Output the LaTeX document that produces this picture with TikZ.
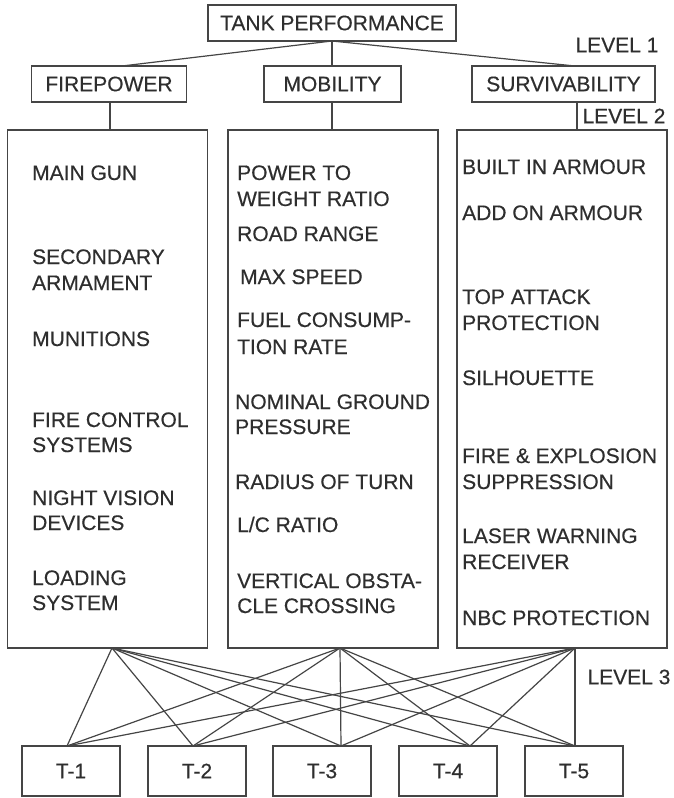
\documentclass[tikz,border=0pt]{standalone}
\usepackage{fontspec}
\setmainfont{Liberation Sans}[FakeBold=0.4]
\definecolor{ink}{HTML}{2E2E2E}
\definecolor{wire}{HTML}{454545}
\begin{document}
\begin{tikzpicture}[x=1pt,y=-1pt,
  every node/.style={font=\fontsize{21}{24}\selectfont, text=ink, inner sep=0pt},
  boxline/.style={draw=wire, line width=1.3pt},
  wireline/.style={draw=wire, line width=1.2pt},
  item/.style={anchor=base west},
  tbox/.style={boxline, minimum width=98pt, minimum height=50pt},
]
\useasboundingbox (0,0) rectangle (673,798);
\fill[white] (0,0) rectangle (673,798);

% level 1
\node[boxline, minimum width=248pt, minimum height=36pt] (tank) at (332,23) {TANK PERFORMANCE};
\node (lev1) at (617,45) {LEVEL 1};

% level 2 heads
\node[boxline, minimum width=155pt, minimum height=36pt] (fire) at (109,84) {FIREPOWER};
\node[boxline, minimum width=137pt, minimum height=36pt] (mob) at (332.5,84) {MOBILITY};
\node[boxline, minimum width=183pt, minimum height=36pt] (surv) at (563.5,84) {SURVIVABILITY};
\node (lev2) at (624,116) {LEVEL 2};

% columns
\node[boxline, minimum width=200pt, minimum height=518pt] (col1) at (107.5,389) {};
\node[boxline, minimum width=210pt, minimum height=518pt] (col2) at (333,389) {};
\node[boxline, minimum width=210pt, minimum height=518pt] (col3) at (562,389) {};

% connection points
\coordinate (tb) at (332,41);
\coordinate (fireT) at (122,66);
\coordinate (survT) at (575,66);

\draw[wireline] (tb) -- (fireT);
\draw[wireline] (tb) -- (mob.north -| tb);
\draw[wireline] (tb) -- (survT);

\draw[wireline] (fire.south -| 110,0) -- (col1.north -| 110,0);
\draw[wireline] (mob.south -| 332,0) -- (col2.north -| 332,0);
\draw[wireline] (surv.south -| 577,0) -- (col3.north -| 577,0);

% column 1 items
\foreach \n/\x/\y/\t in {
  a1/32/180/MAIN GUN,
  a2/32/264/SECONDARY,
  a3/32/290/ARMAMENT,
  a4/32/346/MUNITIONS,
  a5/32/427/FIRE CONTROL,
  a6/32/452/SYSTEMS,
  a7/32/505/NIGHT VISION,
  a8/32/530/DEVICES,
  a9/32/585/LOADING,
  a10/32/610/SYSTEM}
  \node[item] (\n) at (\x,\y) {\t};

% column 2 items
\foreach \n/\x/\y/\t in {
  b1/237/180/POWER TO,
  b2/237/206/WEIGHT RATIO,
  b3/237/241/ROAD RANGE,
  b4/240/284/MAX SPEED,
  b5/237/327/FUEL CONSUMP-,
  b6/237/354/TION RATE,
  b7/235/409/NOMINAL GROUND,
  b8/235/434/PRESSURE,
  b9/235/489/RADIUS OF TURN,
  b10/237/532/{L/C RATIO},
  b11/237/588/VERTICAL OBSTA-,
  b12/237/613/CLE CROSSING}
  \node[item] (\n) at (\x,\y) {\t};

% column 3 items
\foreach \n/\x/\y/\t in {
  c1/462/174/BUILT IN ARMOUR,
  c2/462/220/ADD ON ARMOUR,
  c3/462/304/TOP ATTACK,
  c4/462/330/PROTECTION,
  c5/462/385/SILHOUETTE,
  c6/462/463/FIRE \& EXPLOSION,
  c7/462/489/SUPPRESSION,
  c8/462/543/LASER WARNING,
  c9/462/569/RECEIVER,
  c10/462/625/NBC PROTECTION}
  \node[item] (\n) at (\x,\y) {\t};

% level 3 boxes
\node[tbox] (t1) at (71,771) {T-1};
\node[tbox] (t2) at (197,771) {T-2};
\node[tbox] (t3) at (322,771) {T-3};
\node[tbox] (t4) at (448,771) {T-4};
\node[tbox] (t5) at (574,771) {T-5};
\node (lev3) at (629,677) {LEVEL 3};

% bottom connection points
\coordinate (p1) at (112,648);
\coordinate (p2) at (340,648);
\coordinate (p3) at (575,648);
\coordinate (q1) at (67,746);
\coordinate (q2) at (193,746);
\coordinate (q3) at (341,746);
\coordinate (q4) at (470,746);
\coordinate (q5) at (575,746);

\foreach \p in {p1,p2,p3}
  \foreach \q in {q1,q2,q3,q4,q5}
    \draw[wireline] (\p) -- (\q);
\end{tikzpicture}
\end{document}
